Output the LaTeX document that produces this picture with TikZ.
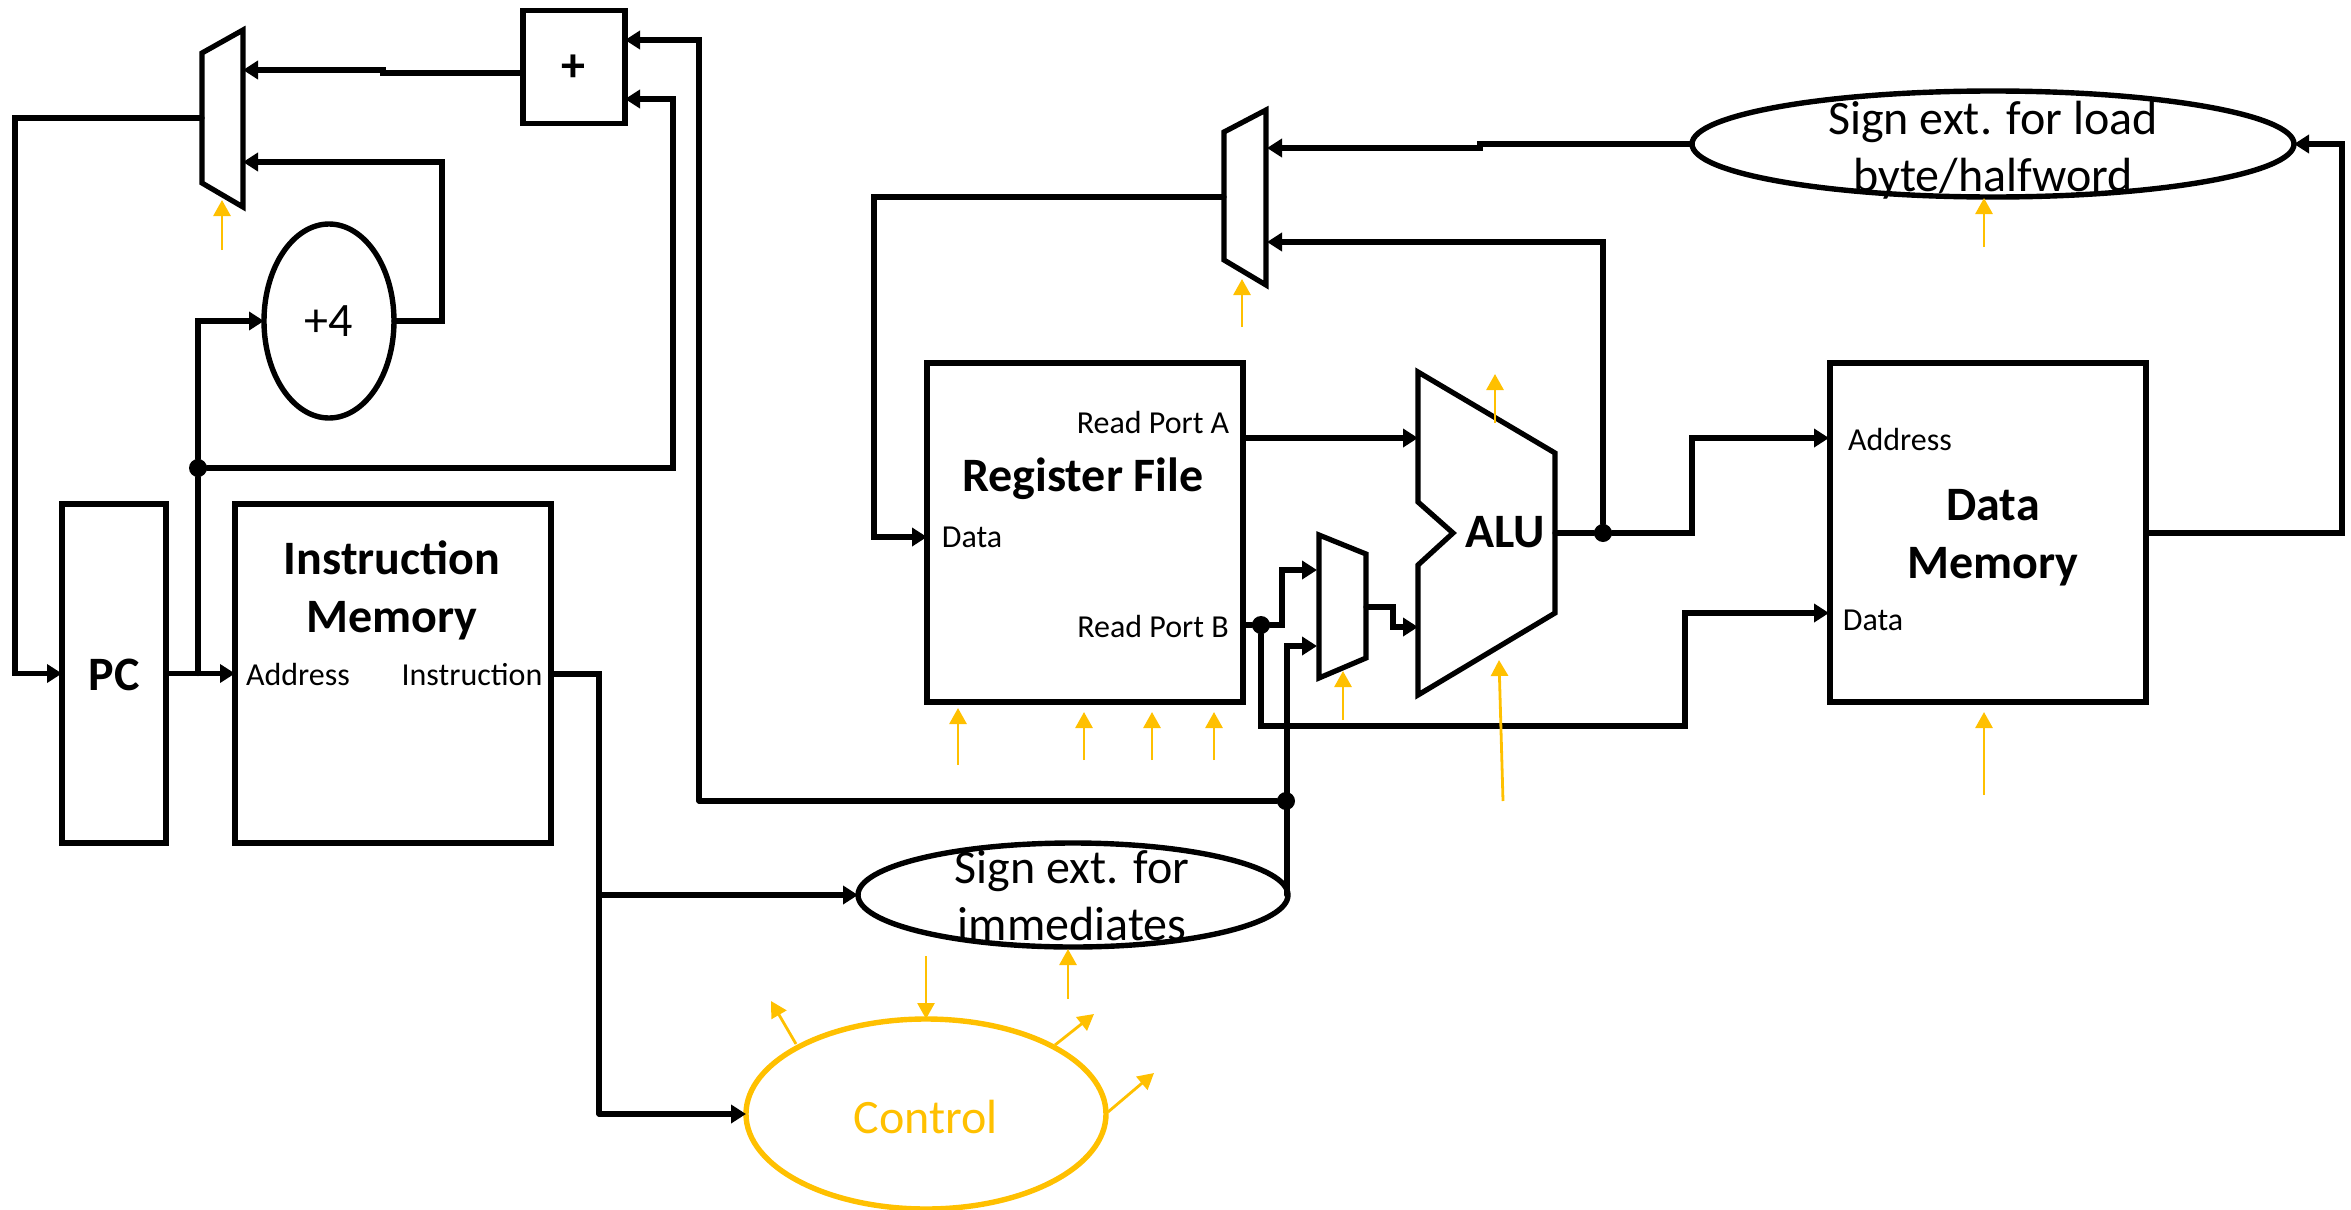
\documentclass[tikz,border=0pt]{standalone}
\usepackage{fontspec}
\setmainfont{Carlito}
\usepackage{tikz}
\usetikzlibrary{arrows.meta}
\usetikzlibrary{shapes.geometric}
\definecolor{ctrl}{HTML}{FFC000}

\tikzset{
  block/.style={draw,line width=2.6pt,inner sep=0pt,outer sep=0pt},
  oval/.style={ellipse,draw,line width=2.7pt,inner sep=0pt,outer sep=0pt},
  wire/.style={line width=2.6pt,line cap=round},
  arr/.style={-{Triangle[length=7.5pt,width=9pt]}},
  ctl/.style={ctrl,line width=1.4pt,-{Triangle[length=8pt,width=8.5pt]}},
  dot/.style={circle,fill=black,minimum size=9pt,inner sep=0pt,outer sep=0pt},
  big/.style={font=\fontsize{24}{28.5}\selectfont,align=center,inner sep=0pt},
  title/.style={font=\fontsize{24}{29}\selectfont\bfseries,align=center,inner sep=0pt},
  port/.style={font=\fontsize{16}{19}\selectfont,inner sep=0pt}
}

\begin{document}
\begin{tikzpicture}[x=0.5pt,y=-0.5pt]
    \useasboundingbox (0,0) rectangle (2351,1210);

    \node[block,minimum width=51pt,minimum height=56.5pt] (adder) at (574,67) {};
    \node[title] (addertext) at (573,68) {+};
    \node[oval,minimum width=65pt,minimum height=97pt] (plusfour) at (329,321) {};
    \node[big] (plusfourtext) at (329,321) {+4};
    \node[block,minimum width=52pt,minimum height=169.5pt] (pc) at (114,673.5) {};
    \node[title] (pctext) at (114,675) {PC};
    \node[block,minimum width=158pt,minimum height=169.5pt] (imem) at (393,673.5) {};
    \node[title] (imemtext) at (392,590) {Instruction\\Memory};
    \node[port] (imemaddr) at (298,675) {Address};
    \node[port] (imeminstr) at (472,675) {Instruction};

    \node[block,minimum width=158pt,minimum height=169.5pt] (regfile) at (1085,532.5) {};
    \node[title] (regfiletext) at (1083,479) {Register File};
    \node[port] (rfporta) at (1153,423) {Read Port A};
    \node[port] (rfdata) at (972,537) {Data};
    \node[port] (rfportb) at (1153,627) {Read Port B};
    \node[block,minimum width=158pt,minimum height=169.5pt] (dmem) at (1988,532.5) {};
    \node[title] (dmemtext) at (1993,538) {Data\\Memory};
    \node[port] (dmemaddr) at (1900,440) {Address};
    \node[port] (dmemdata) at (1873,620) {Data};

    \node[oval,minimum width=301pt,minimum height=53pt] (loadext) at (1993,144) {};
    \node[big] (loadtext) at (1993,150) {Sign ext. for load\\byte/halfword};
    \node[oval,minimum width=215pt,minimum height=52pt] (immext) at (1073,895) {};
    \node[big] (immtext) at (1072,896) {Sign ext. for\\immediates};
    \node[oval,ctrl,minimum width=180pt,minimum height=95pt] (control) at (926,1114) {};
    \node[big,ctrl] (controltext) at (926,1117) {Control};

    \draw[wire,line join=miter] (202,53) -- (243,30) -- (243,207) -- (202,183) -- cycle;
    \draw[wire,line join=miter] (1224,132) -- (1266,110) -- (1266,285) -- (1224,260) -- cycle;
    \draw[wire,line join=miter] (1319,535) -- (1366,554) -- (1366,658) -- (1319,678) -- cycle;
    \draw[wire,line join=miter] (1418,372) -- (1555,453) -- (1555,613) -- (1418,695) -- (1418,565) -- (1453,533) -- (1418,502) -- cycle;
    \node[title] (alutext) at (1505,532) {ALU};

    \coordinate (pcmuxa) at (243,70);
    \coordinate (pcmuxb) at (243,162);
    \coordinate (pcmuxout) at (202,118);
    \coordinate (pcleft) at (15,673.5);
    \coordinate (pcout) at (198,673.5);
    \coordinate (adderout) at (523,73);
    \coordinate (adderjog) at (383,70);
    \coordinate (addera) at (625,40);
    \coordinate (addercorna) at (699,40);
    \coordinate (adderb) at (625,99);
    \coordinate (addercornb) at (673,99);
    \coordinate (plusfourcorn) at (442,162);
    \coordinate (wbmuxa) at (1267,148);
    \coordinate (wbmuxb) at (1267,242);
    \coordinate (wbmuxout) at (1224,197);
    \coordinate (wbcorn) at (874,537);
    \coordinate (rfin) at (927,537);
    \coordinate (loadjog) at (1480,148);
    \coordinate (portaout) at (1243,438);
    \coordinate (aluina) at (1418,438);
    \coordinate (portbout) at (1243,625);
    \coordinate (bmuxa) at (1317,570);
    \coordinate (bmuxb) at (1317,646);
    \coordinate (bmuxbend) at (1282,570);
    \coordinate (bmuxout) at (1366,607);
    \coordinate (bmuxjog) at (1393,627);
    \coordinate (aluinb) at (1418,627);
    \coordinate (aluout) at (1555,533);
    \coordinate (dmaddr) at (1829,438);
    \coordinate (dmaddrcorn) at (1692,438);
    \coordinate (dmdin) at (1829,613);
    \coordinate (dmdincorn) at (1685,613);
    \coordinate (bundercorn) at (1261,726);
    \coordinate (immout) at (1287,895);
    \coordinate (immback) at (699,801);
    \coordinate (imemout) at (551,674);
    \coordinate (ctlcorn) at (599,1114);
    \coordinate (dmout) at (2146,533);
    \coordinate (dmcorn) at (2342,144);

    \node[dot] (pcdot) at (198,468) {};
    \node[dot] (aludot) at (1603,533) {};
    \node[dot] (portbdot) at (1261,625) {};
    \node[dot] (immdot) at (1286,801) {};

    \draw[wire,arr] (adderout) -| (adderjog) -- (pcmuxa);
    \draw[wire,arr] (plusfour.east) -| (plusfourcorn) -- (pcmuxb);
    \draw[wire,arr] (pcmuxout) -| (pcleft) -- (pc.west);
    \draw[wire,arr] (pc.east) -- (imem.west);
    \draw[wire] (pcout) -- (pcdot);
    \draw[wire,arr] (pcdot) |- (plusfour.west);
    \draw[wire,arr] (pcdot) -| (addercornb) -- (adderb);
    \draw[wire,arr] (immback) -- (addercorna) -- (addera);
    \draw[wire] (immback) -- (immdot);

    \draw[wire,arr] (loadext.west) -| (loadjog) -- (wbmuxa);
    \draw[wire,arr] (aludot) |- (wbmuxb);
    \draw[wire,arr] (wbmuxout) -| (wbcorn) -- (rfin);
    \draw[wire,arr] (portaout) -- (aluina);
    \draw[wire] (portbout) -- (portbdot);
    \draw[wire,arr] (portbdot) -| (bmuxbend) -- (bmuxa);
    \draw[wire,arr] (immout) |- (bmuxb);
    \draw[wire,arr] (bmuxout) -| (bmuxjog) -- (aluinb);
    \draw[wire] (aluout) -- (aludot);
    \draw[wire,arr] (aludot) -| (dmaddrcorn) -- (dmaddr);
    \draw[wire,arr] (portbdot) |- (bundercorn) -| (dmdincorn) -- (dmdin);
    \draw[wire,arr] (dmout) -| (dmcorn) -- (loadext.east);

    \draw[wire] (imemout) -| (ctlcorn);
    \draw[wire,arr] (ctlcorn) -- (control.west);
    \draw[wire,arr] (ctlcorn |- immext.west) -- (immext.west);

    \foreach \px/\ya/\yb in {222/250/200,958/765/708,1084/760/712,1152/760/712,1214/760/712,1242/327/279,1343/720/671,1495/423/374,1984/247/198,1984/795/712,1068/999/949} {
      \coordinate (ctla) at (\px,\ya);
      \coordinate (ctlb) at (\px,\yb);
      \draw[ctl] (ctla) -- (ctlb);
    }
    \coordinate (alucfrom) at (1503,801);
    \coordinate (alucto) at (1499,660);
    \draw[ctl] (alucfrom) -- (alucto);
    \coordinate (ctlin) at (926,956);
    \draw[ctl] (ctlin) -- (control.north);
    \coordinate (ctlouta) at (796,1044);
    \coordinate (ctloutatip) at (771,1001);
    \coordinate (ctloutb) at (1055,1045);
    \coordinate (ctloutbtip) at (1094,1014);
    \coordinate (ctloutc) at (1108,1112);
    \coordinate (ctloutctip) at (1154,1073);
    \draw[ctl] (ctlouta) -- (ctloutatip);
    \draw[ctl] (ctloutb) -- (ctloutbtip);
    \draw[ctl] (ctloutc) -- (ctloutctip);
\end{tikzpicture}
\end{document}
